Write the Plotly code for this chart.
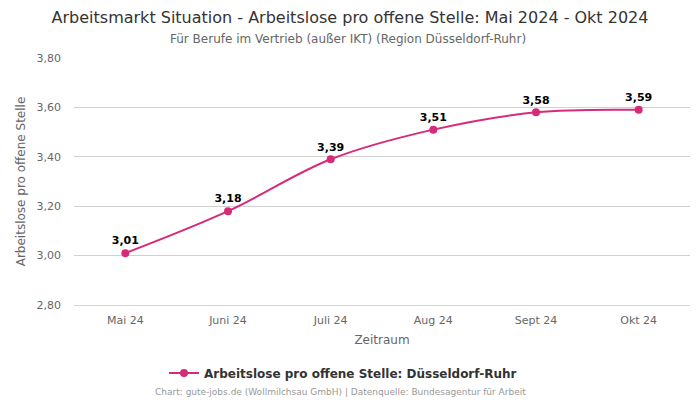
import plotly.graph_objects as go

categories = ["Mai 24", "Juni 24", "Juli 24", "Aug 24", "Sept 24", "Okt 24"]
values = [3.01, 3.18, 3.39, 3.51, 3.58, 3.59]
labels = ["3,01", "3,18", "3,39", "3,51", "3,58", "3,59"]
y_ticks = [2.8, 3.0, 3.2, 3.4, 3.6, 3.8]
y_tick_labels = ["2,80", "3,00", "3,20", "3,40", "3,60", "3,80"]

color = "#d62b78"
font = "DejaVu Sans"

# The page body has an 8px margin; the figure is sized/positioned to compensate.
OFF = 8
W, H = 700 - OFF, 400 - OFF
L, R, T, B = 74 - OFF, 10, 58 - OFF, 95
PW, PH = W - L - R, H - T - B


def px_x(page_x):
    return (page_x - OFF - L) / PW


def px_y(page_y):
    return (T + PH - (page_y - OFF)) / PH


fig = go.Figure()
fig.add_trace(go.Scatter(
    x=categories, y=values, mode="lines+markers+text",
    line=dict(color=color, width=2, shape="spline", smoothing=1.0),
    marker=dict(color=color, size=8),
    text=labels, textposition="top center",
    textfont=dict(family=font, size=11, color="#000000", weight="bold"),
    name="Arbeitslose pro offene Stelle: Düsseldorf-Ruhr",
    cliponaxis=False,
))

fig.update_layout(
    width=W, height=H,
    margin=dict(l=L, r=R, t=T, b=B),
    paper_bgcolor="white", plot_bgcolor="white",
    font=dict(family=font, color="#666666", size=11),
    title=dict(
        text="Arbeitsmarkt Situation - Arbeitslose pro offene Stelle: Mai 2024 - Okt 2024",
        x=(350 - OFF) / W, xanchor="center", y=1 - (17 - OFF) / H, yanchor="middle",
        font=dict(family=font, size=16, color="#333333"),
    ),
    showlegend=True,
    legend=dict(
        orientation="h", x=px_x(343), xanchor="center", y=px_y(373), yanchor="middle",
        font=dict(family=font, size=12, color="#333333", weight="bold"),
    ),
    annotations=[
        dict(text="Für Berufe im Vertrieb (außer IKT) (Region Düsseldorf-Ruhr)",
             x=px_x(348), y=px_y(39), xref="paper", yref="paper", showarrow=False,
             font=dict(family=font, size=12, color="#666666"), yanchor="middle"),
        dict(text="Chart: gute-jobs.de (Wollmilchsau GmbH) | Datenquelle: Bundesagentur für Arbeit",
             x=px_x(340), y=px_y(392), xref="paper", yref="paper", showarrow=False,
             font=dict(family=font, size=9, color="#999999"), yanchor="middle"),
    ],
)

fig.update_xaxes(
    range=[-0.5, 5.5], showgrid=False,
    showline=True, linecolor="#ccd6eb", linewidth=1,
    ticks="", ticklabelstandoff=5,
    tickfont=dict(family=font, size=11, color="#666666"),
    title=dict(text="Zeitraum", font=dict(family=font, size=12, color="#666666"), standoff=9),
)
fig.update_yaxes(
    range=[2.8, 3.8], tickvals=y_ticks, ticktext=y_tick_labels,
    showgrid=True, gridcolor="#d0d0d0", gridwidth=1, zeroline=False,
    ticks="", ticklabelstandoff=12,
    tickfont=dict(family=font, size=11, color="#666666"),
    title=dict(text="Arbeitslose pro offene Stelle", font=dict(family=font, size=12, color="#666666"), standoff=8),
)

fig.write_html("out.html")
